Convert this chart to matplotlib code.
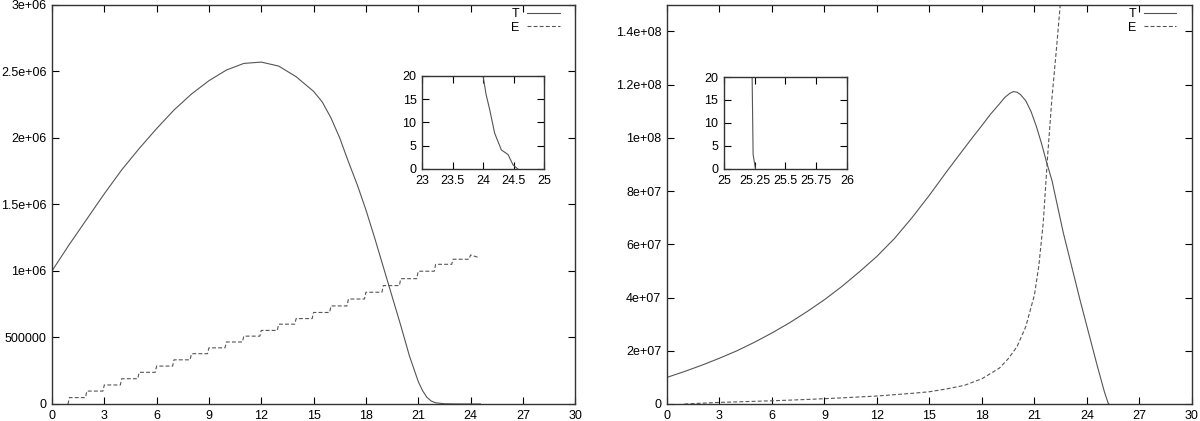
import numpy as np
import matplotlib
matplotlib.use("Agg")
import matplotlib.pyplot as plt

plt.rcParams['font.family'] = ['Liberation Sans', 'DejaVu Sans']

# left panel: T (solid) and E (stair steps)
t_left_x = [0, 1, 2, 3, 4, 5, 6, 7, 8, 9, 10, 11, 12, 13, 14, 15, 15.5, 16, 16.5, 17, 17.5, 18,
            18.5, 19, 19.5, 20, 20.5, 21, 21.25, 21.5, 21.75, 22, 22.5, 23, 23.5, 23.8, 24.0,
            24.05, 24.11, 24.19, 24.3, 24.41, 24.49, 24.57]
t_left_y = [1.00e6, 1.20e6, 1.39e6, 1.58e6, 1.76e6, 1.92e6, 2.07e6, 2.21e6, 2.33e6, 2.43e6,
            2.51e6, 2.56e6, 2.57e6, 2.54e6, 2.46e6, 2.35e6, 2.27e6, 2.15e6, 2.00e6, 1.82e6,
            1.65e6, 1.46e6, 1.25e6, 1.03e6, 0.81e6, 0.59e6, 0.36e6, 0.17e6, 0.10e6, 0.05e6,
            0.022e6, 0.009e6, 1800, 500, 120, 45, 20, 16, 12.7, 7.7, 4.1, 3.1, 0.9, 0]

e_left_n = list(range(0, 25))
e_left_lvl = [0, 48e3, 97e3, 143e3, 190e3, 238e3, 285e3, 332e3, 378e3, 422e3, 466e3, 510e3,
              553e3, 600e3, 642e3, 688e3, 737e3, 789e3, 840e3, 890e3, 942e3, 998e3, 1050e3,
              1088e3, 1120e3]
e_left_start = 0.9
e_left_end = (24.5, 1.10e6)

# right panel
t_right_x = [0, 1, 2, 3, 4, 5, 6, 7, 8, 9, 10, 11, 12, 13, 14, 15, 16, 17, 17.5, 18, 18.5, 19,
             19.3, 19.6, 19.8, 20.0, 20.2, 20.5, 20.8, 21.1, 21.4, 21.7, 22, 22.65, 23.6, 24.55,
             25, 25.229, 25.237, 25.256]
t_right_y = [1.0e7, 1.22e7, 1.46e7, 1.72e7, 2.0e7, 2.32e7, 2.67e7, 3.05e7, 3.47e7, 3.92e7,
             4.42e7, 4.97e7, 5.55e7, 6.22e7, 7.0e7, 7.85e7, 8.75e7, 9.62e7, 1.005e8, 1.047e8,
             1.09e8, 1.128e8, 1.152e8, 1.168e8, 1.174e8, 1.172e8, 1.163e8, 1.14e8, 1.10e8,
             1.045e8, 9.8e7, 9.07e7, 8.4e7, 6.43e7, 3.92e7, 1.53e7, 4.5e6, 20, 3.2, 0]

e_right_x = [1, 2, 3, 4, 5, 6, 7, 8, 9, 10, 11, 12, 13, 14, 15, 16, 17, 18, 19, 19.5, 20, 20.5,
             21, 21.25, 21.5, 21.75, 22, 22.25, 22.5]
e_right_y = [0, 0.3e6, 0.6e6, 0.8e6, 1.0e6, 1.2e6, 1.45e6, 1.7e6, 2.0e6, 2.3e6, 2.65e6, 3.0e6,
             3.5e6, 4.0e6, 4.6e6, 5.7e6, 7.0e6, 9.5e6, 1.35e7, 1.7e7, 2.15e7, 2.9e7, 4.1e7,
             5.2e7, 6.8e7, 9.3e7, 1.15e8, 1.33e8, 1.52e8]

x_ticks = [0, 3, 6, 9, 12, 15, 18, 21, 24, 27, 30]
left_yticks = [0, 5e5, 1e6, 1.5e6, 2e6, 2.5e6, 3e6]
left_ylabels = ['0', '500000', '1e+06', '1.5e+06', '2e+06', '2.5e+06', '3e+06']
right_yticks = [0, 2e7, 4e7, 6e7, 8e7, 1e8, 1.2e8, 1.4e8]
right_ylabels = ['0', '2e+07', '4e+07', '6e+07', '8e+07', '1e+08', '1.2e+08', '1.4e+08']
inset_yticks = [0, 5, 10, 15, 20]
inset1_xticks = [23, 23.5, 24, 24.5, 25]
inset1_xlabels = ['23', '23.5', '24', '24.5', '25']
inset2_xticks = [25, 25.25, 25.5, 25.75, 26]
inset2_xlabels = ['25', '25.25', '25.5', '25.75', '26']

# build stair path for E from its levels
ex = [e_left_start]
ey = [0]
for n in e_left_n[1:]:
    ex.append(n - 0.08)
    ey.append(e_left_lvl[n - 1])
    ex.append(n)
    ey.append(e_left_lvl[n])
ex.append(e_left_end[0])
ey.append(e_left_end[1])

col = '#555555'
lw = 0.8
dash = (0, (3.5, 2))


def style(ax, fs=9):
    ax.tick_params(direction='in', top=True, right=True, length=5, width=0.8,
                   labelsize=fs, colors='black', pad=4)
    for s in ax.spines.values():
        s.set_linewidth(1.0)
        s.set_color('#333333')


def key(ax):
    ax.legend(loc='upper right', bbox_to_anchor=(0.98, 1.005), frameon=False,
              markerfirst=False, handlelength=2.6, fontsize=9, labelspacing=0.15,
              borderaxespad=0, handletextpad=0.6)


fig = plt.figure(figsize=(12, 4.21), dpi=100)

ax1 = fig.add_axes([0.0433, 0.0404, 0.436, 0.948])
ax1.plot(t_left_x, t_left_y, color=col, lw=lw, label='T')
ax1.plot(ex, ey, color=col, lw=lw, ls=dash, label='E')
ax1.set_xlim(0, 30)
ax1.set_ylim(0, 3e6)
ax1.set_xticks(x_ticks)
ax1.set_yticks(left_yticks)
ax1.set_yticklabels(left_ylabels)
style(ax1)
key(ax1)

in1 = fig.add_axes([0.3517, 0.5986, 0.1017, 0.2209])
in1.plot(t_left_x, t_left_y, color=col, lw=lw)
in1.set_xlim(23, 25)
in1.set_ylim(0, 20)
in1.set_xticks(inset1_xticks)
in1.set_xticklabels(inset1_xlabels)
in1.set_yticks(inset_yticks)
style(in1)

ax2 = fig.add_axes([0.5558, 0.0404, 0.4375, 0.948])
ax2.plot(t_right_x, t_right_y, color=col, lw=lw, label='T')
ax2.plot(e_right_x, e_right_y, color=col, lw=lw, ls=dash, label='E')
ax2.set_xlim(0, 30)
ax2.set_ylim(0, 1.5e8)
ax2.set_xticks(x_ticks)
ax2.set_yticks(right_yticks)
ax2.set_yticklabels(right_ylabels)
style(ax2)
key(ax2)

in2 = fig.add_axes([0.6033, 0.5986, 0.1025, 0.2185])
in2.plot(t_right_x, t_right_y, color=col, lw=lw)
in2.set_xlim(25, 26)
in2.set_ylim(0, 20)
in2.set_xticks(inset2_xticks)
in2.set_xticklabels(inset2_xlabels)
in2.set_yticks(inset_yticks)
style(in2)

fig.savefig('out.png', dpi=100)
